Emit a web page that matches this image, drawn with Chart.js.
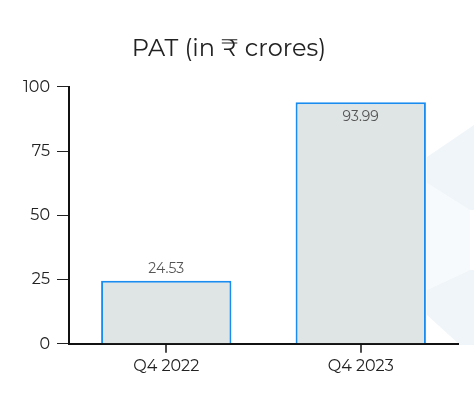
<!DOCTYPE html>
<html>
<head>
<meta charset="utf-8">
<style>
  html, body { margin: 0; padding: 0; background: #fff; }
  #wrap { position: relative; width: 474px; height: 398px; }
  canvas { display: block; }
</style>
<script src="https://cdn.jsdelivr.net/npm/chart.js@4"></script>
</head>
<body>
<div id="wrap"><canvas id="myChart" width="474" height="398"></canvas></div>
<script>
// Chart data
const categories = ['Q4 2022', 'Q4 2023'];
const patValues = [24.53, 93.99];
const yTicks = [0, 25, 50, 75, 100];

const FONT = 'Montserrat, "Open Sans", Lato, sans-serif';

// faint hexagon watermark in the right margin
const watermark = {
    id: 'watermark',
    beforeDraw(chart) {
        const c = chart.ctx;
        c.save();
        c.fillStyle = '#f7fafc';
        c.beginPath();
        c.moveTo(427, 183); c.lineTo(470, 210); c.lineTo(470, 270); c.lineTo(427, 290);
        c.closePath(); c.fill();
        c.fillStyle = '#eff5f9';
        c.beginPath();
        c.moveTo(427, 157); c.lineTo(474, 125); c.lineTo(474, 210); c.lineTo(470, 210); c.lineTo(427, 183);
        c.closePath(); c.fill();
        c.beginPath();
        c.moveTo(427, 290); c.lineTo(470, 270); c.lineTo(474, 270); c.lineTo(474, 345); c.lineTo(460, 345); c.lineTo(427, 315);
        c.closePath(); c.fill();
        c.restore();
    }
};

// value labels: above short bars, inside tall ones
const valueLabels = {
    id: 'valueLabels',
    afterDatasetsDraw(chart) {
        const c = chart.ctx;
        const meta = chart.getDatasetMeta(0);
        c.save();
        c.font = '14px ' + FONT;
        c.fillStyle = '#555';
        c.textAlign = 'center';
        c.textBaseline = 'middle';
        meta.data.forEach((bar, i) => {
            const v = patValues[i];
            const y = v > 80 ? bar.y + 15 : bar.y - 12;
            c.fillText(v.toFixed(2), bar.x, y);
        });
        c.restore();
    }
};

// small tick marks under each category centre
const centreTicks = {
    id: 'centreTicks',
    afterDraw(chart) {
        const x = chart.scales.x;
        const y0 = chart.chartArea.bottom;
        const c = chart.ctx;
        c.save();
        c.strokeStyle = '#111';
        c.lineWidth = 1.5;
        x.ticks.forEach((t, i) => {
            const px = Math.round(x.getPixelForTick(i));
            c.beginPath();
            c.moveTo(px, y0);
            c.lineTo(px, y0 + 9);
            c.stroke();
        });
        c.restore();
    }
};

const ctx = document.getElementById('myChart').getContext('2d');
const myChart = new Chart(ctx, {
    type: 'bar',
    data: {
        labels: categories,
        datasets: [{
            data: patValues,
            backgroundColor: '#dfe4e4',
            borderColor: '#1a8cf0',
            borderWidth: 2,
            borderSkipped: 'bottom',
            barPercentage: 0.67,
            categoryPercentage: 1
        }]
    },
    options: {
        responsive: false,
        animation: false,
        layout: { padding: { left: 0, right: 16, top: 10, bottom: 17 } },
        plugins: {
            legend: { display: false },
            tooltip: { enabled: false },
            title: {
                display: true,
                text: 'PAT (in ₹ crores)',
                color: '#222',
                font: { family: FONT, size: 24, weight: 'normal' },
                padding: { top: 25, bottom: 23 }
            }
        },
        scales: {
            x: {
                grid: { drawOnChartArea: false, drawTicks: true, tickLength: 8, tickColor: 'rgba(0,0,0,0)' },
                border: { display: true, color: '#111', width: 2 },
                ticks: { color: '#222', font: { family: FONT, size: 16 }, padding: 5 }
            },
            y: {
                min: 0,
                max: 100,
                afterBuildTicks(axis) {
                    axis.ticks = yTicks.map(v => ({ value: v }));
                },
                afterFit(axis) { axis.width = 69; },
                grid: { drawOnChartArea: false, drawTicks: true, tickLength: 12, tickColor: '#222', tickWidth: 1 },
                border: { display: true, color: '#111', width: 2 },
                ticks: { color: '#222', font: { family: FONT, size: 16 }, padding: 7 }
            }
        }
    },
    plugins: [watermark, valueLabels, centreTicks]
});
</script>
</body>
</html>
